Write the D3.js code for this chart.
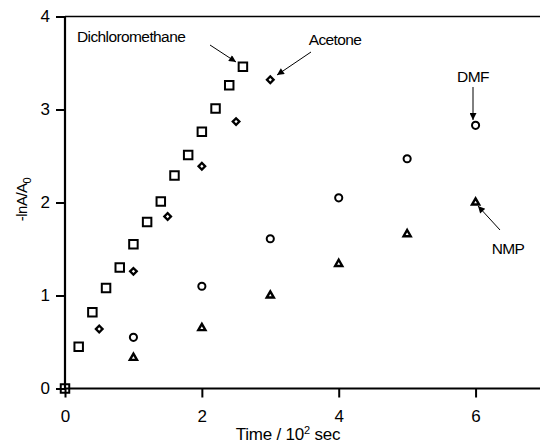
<html>
  <head>
    <script src="https://cdnjs.cloudflare.com/ajax/libs/d3/7.8.5/d3.min.js"></script>
    <meta charset="UTF-8">
    <style>
      body { margin: 0; background: #fff; }
      text { font-family: 'Liberation Sans', Arial, sans-serif; fill: #000; }
    </style>
  </head>
  <body>
    <svg id="chart" width="540" height="444"></svg>
    <script>
      const xTicks = [0, 2, 4, 6]
      const yTicks = [0, 1, 2, 3, 4]

      const dcmTime = [0, 0.2, 0.4, 0.6, 0.8, 1.0, 1.2, 1.4, 1.6, 1.8, 2.0, 2.2, 2.4, 2.6]
      const dcmValue = [0, 0.45, 0.82, 1.08, 1.3, 1.55, 1.79, 2.01, 2.29, 2.51, 2.76, 3.01, 3.26, 3.46]

      const acetoneTime = [0.5, 1.0, 1.5, 2.0, 2.5, 3.0]
      const acetoneValue = [0.64, 1.26, 1.85, 2.39, 2.87, 3.32]

      const dmfTime = [1, 2, 3, 4, 5, 6]
      const dmfValue = [0.55, 1.1, 1.61, 2.05, 2.47, 2.83]

      const nmpTime = [1, 2, 3, 4, 5, 6]
      const nmpValue = [0.33, 0.65, 1.0, 1.34, 1.66, 2.0]

      const svg = d3.select('#chart')

      const x = d3.scaleLinear().domain([0, 7]).range([65, 544])
      const y = d3.scaleLinear().domain([0, 4]).range([388.5, 16.5])

      svg.append('defs').append('marker')
        .attr('id', 'arrow')
        .attr('viewBox', '0 0 10 10')
        .attr('refX', 10).attr('refY', 5)
        .attr('markerWidth', 9).attr('markerHeight', 7)
        .attr('markerUnits', 'userSpaceOnUse')
        .attr('orient', 'auto')
        .append('path')
        .attr('d', 'M0,0 L10,5 L0,10 z')
        .attr('fill', '#000')

      // frame: top line, left and bottom axes
      svg.append('line')
        .attr('x1', x(0)).attr('x2', 540)
        .attr('y1', y(4)).attr('y2', y(4))
        .attr('stroke', '#000').attr('stroke-width', 1.6)

      const xAxis = svg.append('g')
        .attr('transform', `translate(0,${y(0)})`)
        .call(d3.axisBottom(x).tickValues(xTicks).tickSize(9).tickPadding(12).tickFormat(d3.format('d')))
      const yAxis = svg.append('g')
        .attr('transform', `translate(${x(0)},0)`)
        .call(d3.axisLeft(y).tickValues(yTicks).tickSize(9).tickPadding(6).tickFormat(d3.format('d')))

      ;[xAxis, yAxis].forEach(a => {
        a.select('.domain').attr('stroke-width', 2.2)
        a.selectAll('.tick line').attr('stroke-width', 2)
        a.selectAll('.tick text')
          .style('font-family', "'Liberation Sans', Arial, sans-serif")
          .style('font-size', '17px')
      })
      xAxis.select('.domain').attr('d', `M${x(0)},0H540`)
      yAxis.select('.domain').attr('d', `M0,${y(0)}V${y(4)}`)

      // axis titles
      const ylab = svg.append('text')
        .attr('transform', `translate(27,${y(2) - 3}) rotate(-90)`)
        .attr('text-anchor', 'middle')
        .style('font-size', '15px')
        .style('letter-spacing', '-0.5px')
      ylab.append('tspan').text('-lnA/A')
      ylab.append('tspan').attr('dy', 4).style('font-size', '11px').text('0')

      const xlab = svg.append('text')
        .attr('x', 288).attr('y', 440)
        .attr('text-anchor', 'middle')
        .style('font-size', '17px')
        .style('letter-spacing', '-0.2px')
      xlab.append('tspan').text('Time / 10')
      xlab.append('tspan').attr('dy', -6).style('font-size', '11px').text('2')
      xlab.append('tspan').attr('dy', 6).text(' sec')

      const zip = (a, b) => a.map((t, i) => [t, b[i]])

      function plot(data, type, size, rot, sw) {
        svg.append('g').selectAll('path')
          .data(data)
          .enter().append('path')
          .attr('d', d3.symbol().type(type).size(size))
          .attr('transform', d => `translate(${x(d[0])},${y(d[1])}) rotate(${rot})`)
          .attr('fill', 'none')
          .attr('stroke', '#000')
          .attr('stroke-width', sw)
      }

      plot(zip(dcmTime, dcmValue), d3.symbolSquare, 72, 0, 2)
      plot(zip(acetoneTime, acetoneValue), d3.symbolSquare, 22, 45, 2.3)
      plot(zip(dmfTime, dmfValue), d3.symbolCircle, 40, 0, 2)
      plot(zip(nmpTime, nmpValue), d3.symbolTriangle, 22, 0, 2.4)

      // annotations
      const notes = [
        { text: 'Dichloromethane', tx: 77, ty: 42, anchor: 'start', x1: 210, y1: 45, x2: 236, y2: 62 },
        { text: 'Acetone', tx: 335, ty: 45, anchor: 'middle', x1: 311, y1: 52, x2: 277, y2: 75 },
        { text: 'DMF', tx: 473, ty: 82, anchor: 'middle', x1: 473, y1: 87, x2: 473, y2: 120 },
        { text: 'NMP', tx: 508, ty: 254, anchor: 'middle', x1: 500, y1: 230, x2: 478, y2: 206 }
      ]
      notes.forEach(n => {
        svg.append('text')
          .attr('x', n.tx).attr('y', n.ty)
          .attr('text-anchor', n.anchor)
          .style('font-size', '15.5px')
          .style('letter-spacing', '-0.6px')
          .text(n.text)
        svg.append('line')
          .attr('x1', n.x1).attr('y1', n.y1)
          .attr('x2', n.x2).attr('y2', n.y2)
          .attr('stroke', '#000').attr('stroke-width', 1)
          .attr('marker-end', 'url(#arrow)')
      })
    </script>
  </body>
</html>
